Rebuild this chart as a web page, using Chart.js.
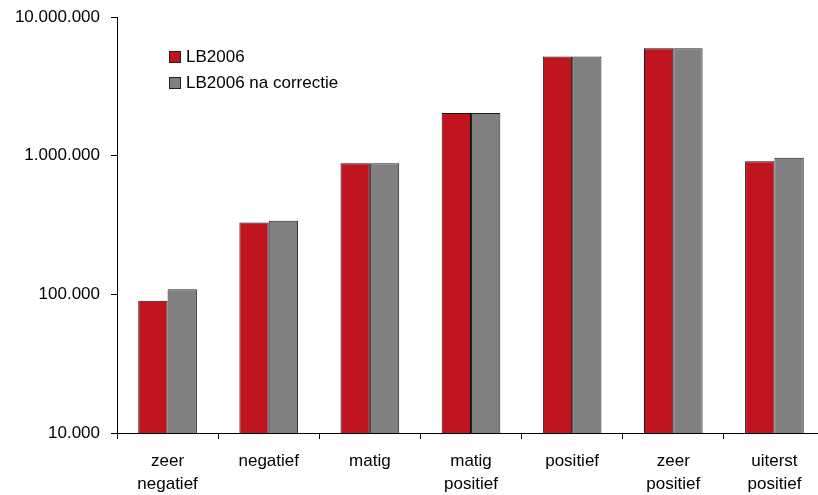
<!DOCTYPE html>
<html>
<head>
<meta charset="utf-8">
<script src="https://cdn.jsdelivr.net/npm/chart.js@4/dist/chart.umd.min.js"></script>
<style>
  html, body { margin: 0; padding: 0; background: #fff; overflow: hidden; }
  #wrap { width: 818px; height: 495px; overflow: hidden; }
  #c { display: block; }
</style>
</head>
<body>
<div id="wrap"><canvas id="c" width="825" height="495"></canvas></div>
<script>
// Categories (multi-line labels)
const categories = [
  ['zeer', 'negatief'],
  ['negatief'],
  ['matig'],
  ['matig', 'positief'],
  ['positief'],
  ['zeer', 'positief'],
  ['uiterst', 'positief']
];

// Series
const seriesNames = ['LB2006', 'LB2006 na correctie'];
const lb2006 = [90000, 330000, 880000, 2030000, 5180000, 5950000, 910000];
const lb2006Gecorrigeerd = [109000, 339000, 880000, 2030000, 5180000, 5950000, 967000];

// Axis ticks
const yTicks = [10000, 100000, 1000000, 10000000];

const RED = '#C0141F';
const GREY = '#808080';
const FONT = 'Liberation Sans, Arial, sans-serif';

function formatNL(v) {
  return String(Math.round(v)).replace(/\B(?=(\d{3})+(?!\d))/g, '.');
}

// Legend drawn inside the plot area
const innerLegend = {
  id: 'innerLegend',
  afterDraw(chart) {
    const ctx = chart.ctx;
    ctx.save();
    ctx.font = '17px ' + FONT;
    ctx.textBaseline = 'middle';
    chart.data.datasets.forEach((ds, i) => {
      const x = 169, y = 51 + i * 26;
      ctx.fillStyle = ds.backgroundColor;
      ctx.fillRect(x, y, 11, 11);
      ctx.strokeStyle = '#222';
      ctx.lineWidth = 1;
      ctx.strokeRect(x + 0.5, y + 0.5, 11, 11);
      ctx.fillStyle = '#000';
      ctx.fillText(ds.label, x + 17, y + 6.5);
    });
    ctx.restore();
  }
};

new Chart(document.getElementById('c'), {
  type: 'bar',
  data: {
    labels: categories,
    datasets: [
      { label: seriesNames[0], data: lb2006, backgroundColor: RED, borderColor: '#111', borderWidth: 1 },
      { label: seriesNames[1], data: lb2006Gecorrigeerd, backgroundColor: GREY, borderColor: '#222', borderWidth: 1 }
    ]
  },
  options: {
    responsive: false,
    animation: false,
    devicePixelRatio: 1,
    layout: { padding: { top: 17, left: 0, right: 0, bottom: 0 } },
    datasets: { bar: { categoryPercentage: 0.58, barPercentage: 1.0 } },
    plugins: {
      legend: { display: false },
      tooltip: { enabled: false }
    },
    scales: {
      x: {
        grid: { display: true, drawOnChartArea: false, drawTicks: true, tickLength: 6, color: '#000', offset: true },
        border: { display: true, color: '#000', width: 1 },
        ticks: { color: '#000', font: { family: FONT, size: 17, lineHeight: 1.4 }, padding: 10, maxRotation: 0, autoSkip: false },
        afterFit(scale) { scale.height = 62; }
      },
      y: {
        type: 'logarithmic',
        min: 10000,
        max: 10000000,
        grid: { display: true, drawOnChartArea: false, drawTicks: true, tickLength: 6, color: '#000' },
        border: { display: true, color: '#000', width: 1 },
        afterBuildTicks(scale) { scale.ticks = yTicks.map(v => ({ value: v })); },
        ticks: {
          color: '#000',
          font: { family: FONT, size: 17 },
          padding: 11,
          callback: (v) => formatNL(v)
        },
        afterFit(scale) {
          scale.width = 117;
          scale.paddingTop = 0;
          scale.paddingBottom = 0;
        }
      }
    }
  },
  plugins: [innerLegend]
});
</script>
</body>
</html>
